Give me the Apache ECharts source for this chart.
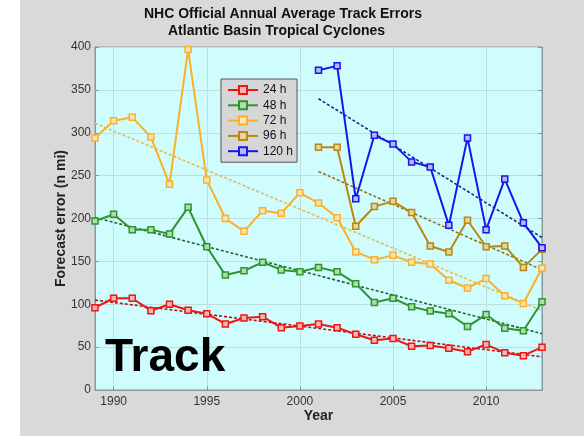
<!DOCTYPE html>
<html>
<head>
<meta charset="utf-8">
<script src="https://cdn.jsdelivr.net/npm/echarts@6/dist/echarts.min.js"></script>
<style>
  html, body { margin: 0; padding: 0; background: #ffffff; }
  #chart { width: 584px; height: 436px; }
</style>
</head>
<body>
<div id="chart"></div>
<script>
// Years on the horizontal axis
const years = [1989, 1990, 1991, 1992, 1993, 1994, 1995, 1996, 1997, 1998, 1999, 2000,
               2001, 2002, 2003, 2004, 2005, 2006, 2007, 2008, 2009, 2010, 2011, 2012, 2013];

// Official track errors (n mi), 1989-2013
const err24 = [96, 107, 107, 92.5, 100, 93, 89, 77, 84, 85.5, 72.7, 74.6,
               77, 72.7, 65, 58, 60, 51, 52, 48.6, 44.7, 53, 43.5, 40, 50];
const err48 = [197, 205, 187, 187, 182, 213, 167, 134, 139, 149, 140, 138,
               143, 138, 124, 102, 107, 97, 92, 89, 74, 88, 72, 69, 103];
const err72 = [294, 314, 318, 295, 240, 397, 245, 200, 185, 209, 206, 230,
               218, 201, 161, 152, 157, 149, 147, 128, 119, 130, 110, 101, 142];

// Day 4 and day 5 forecasts start in 2001
const extStart = 2001;
const err96  = [283, 283, 191, 214, 220, 207, 168, 161, 198, 167, 168, 143, 164];
const err120 = [373, 378, 223, 297, 287, 266, 260, 192, 294, 187, 246, 195, 166];

const seriesNames = ['24 h', '48 h', '72 h', '96 h', '120 h'];
const yTicks = [0, 50, 100, 150, 200, 250, 300, 350, 400];

// Place a series that starts at a later year onto the full year list
function pad(values, startYear) {
  const off = years.indexOf(startYear);
  return years.map((y, i) => (i >= off && i - off < values.length) ? values[i - off] : null);
}

// Least-squares straight line through the non-null points
function trend(full) {
  const pts = [];
  full.forEach((v, i) => { if (v !== null) pts.push([years[i], v]); });
  const n = pts.length;
  let sx = 0, sy = 0, sxx = 0, sxy = 0;
  pts.forEach(([x, y]) => { sx += x; sy += y; sxx += x * x; sxy += x * y; });
  const b = (n * sxy - sx * sy) / (n * sxx - sx * sx);
  const a = (sy - b * sx) / n;
  return full.map((v, i) => v === null ? null : +(a + b * years[i]).toFixed(2));
}

const data = [err24, err48, err72, pad(err96, extStart), pad(err120, extStart)];
const lineColors = ['#f01515', '#2e952e', '#fbb02a', '#b8880f', '#1515ee'];
const fillColors = ['#f7b8b8', '#b0dcb0', '#fde4b0', '#e4d4a4', '#b8b8f8'];
const trendColors = ['#b01818', '#1f6a2a', '#e8bb4a', '#8d7426', '#1c2a8a'];

const series = [];
data.forEach((d, k) => {
  series.push({
    name: seriesNames[k] + ' fit',
    type: 'line',
    data: trend(d),
    symbol: 'none',
    silent: true,
    z: 3,
    lineStyle: { color: trendColors[k], width: 1.6, type: [3, 2] }
  });
});
data.forEach((d, k) => {
  series.push({
    name: seriesNames[k],
    type: 'line',
    data: d,
    symbol: 'rect',
    symbolSize: 6,
    z: 4,
    lineStyle: { color: lineColors[k], width: 2 },
    itemStyle: { color: fillColors[k], borderColor: lineColors[k], borderWidth: 1.5 }
  });
});

const tickEvery5 = (idx, val) => Number(val) % 5 === 0;

const chart = echarts.init(document.getElementById('chart'), null, { renderer: 'canvas' });
chart.setOption({
  backgroundColor: '#d9d9d9',
  animation: false,
  title: [
    { text: 'NHC Official Annual Average Track Errors', left: 144, top: 7, padding: 0,
      textStyle: { fontFamily: 'Liberation Sans, Arial', fontSize: 14, fontWeight: 'bold', color: '#111' } },
    { text: 'Atlantic Basin Tropical Cyclones', left: 168, top: 24, padding: 0,
      textStyle: { fontFamily: 'Liberation Sans, Arial', fontSize: 14, fontWeight: 'bold', color: '#111' } }
  ],
  graphic: [
    { type: 'rect', left: 0, top: 0, shape: { width: 20, height: 436 }, style: { fill: '#ffffff' }, z: -10 },
    { type: 'text', left: 105, top: 335, z: 100,
      style: { text: 'Track', fontFamily: 'Liberation Sans, Arial', fontSize: 46, fontWeight: 'bold', fill: '#000' } }
  ],
  legend: {
    data: seriesNames,
    orient: 'vertical',
    left: 221,
    top: 79,
    padding: [5, 4, 5, 6],
    itemWidth: 30,
    itemHeight: 10,
    itemGap: 3.3,
    backgroundColor: '#d6d6d6',
    borderColor: '#555',
    borderWidth: 1,
    borderRadius: 0,
    textStyle: { fontFamily: 'Liberation Sans, Arial', fontSize: 12, color: '#111' }
  },
  grid: {
    left: 95, right: 42, top: 47, bottom: 46,
    show: true, backgroundColor: '#cffcfc', borderColor: '#8a9898', borderWidth: 1
  },
  xAxis: {
    type: 'category',
    data: years.map(String),
    boundaryGap: false,
    name: 'Year',
    nameLocation: 'middle',
    nameGap: 19,
    nameMoveOverlap: false,
    nameTextStyle: { fontFamily: 'Liberation Sans, Arial', fontSize: 14, fontWeight: 'bold', color: '#222' },
    axisLine: { lineStyle: { color: '#8a9898' } },
    axisTick: { inside: true, length: 4, interval: tickEvery5, lineStyle: { color: '#8a9898' } },
    axisLabel: { interval: tickEvery5, margin: 6, fontFamily: 'Liberation Sans, Arial', fontSize: 12, color: '#333' },
    splitLine: { show: true, interval: tickEvery5, lineStyle: { color: '#bfdfdf', width: 1 } }
  },
  yAxis: [
    {
      type: 'value', min: yTicks[0], max: yTicks[yTicks.length - 1], interval: 50,
      name: 'Forecast error (n mi)',
      nameLocation: 'middle',
      nameGap: 27,
      nameMoveOverlap: false,
      nameTextStyle: { fontFamily: 'Liberation Sans, Arial', fontSize: 14, fontWeight: 'bold', color: '#222' },
      axisLine: { show: true, lineStyle: { color: '#8a9898' } },
      axisTick: { show: true, inside: true, length: 4, lineStyle: { color: '#8a9898' } },
      axisLabel: { margin: 4, fontFamily: 'Liberation Sans, Arial', fontSize: 12, color: '#333' },
      splitLine: { show: true, lineStyle: { color: '#bfdfdf', width: 1 } }
    },
    {
      type: 'value', min: yTicks[0], max: yTicks[yTicks.length - 1], interval: 50,
      position: 'right',
      axisLine: { show: true, lineStyle: { color: '#8a9898' } },
      axisTick: { show: true, inside: true, length: 4, lineStyle: { color: '#8a9898' } },
      axisLabel: { show: false },
      splitLine: { show: false }
    }
  ],
  series: series
});
</script>
</body>
</html>
